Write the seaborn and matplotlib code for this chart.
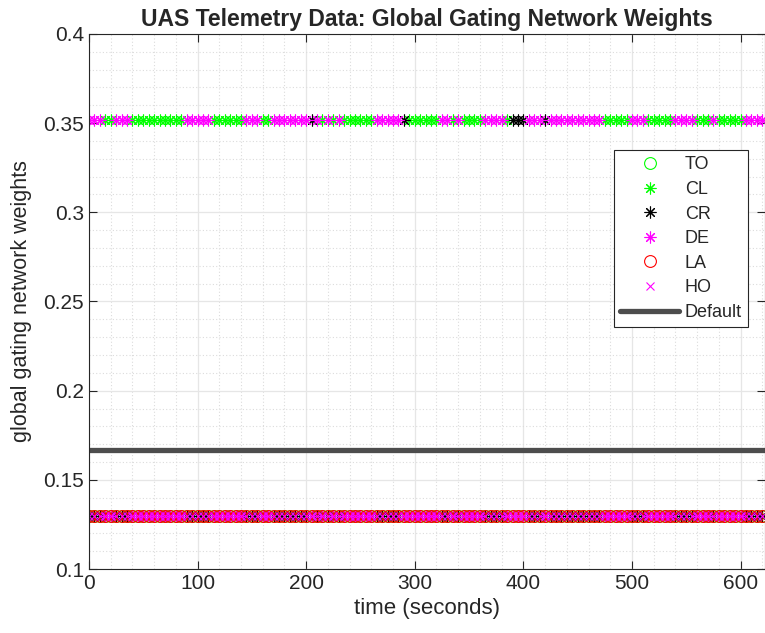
import numpy as np
import pandas as pd
import matplotlib
matplotlib.use("Agg")
import matplotlib.pyplot as plt
from matplotlib.ticker import MultipleLocator, FuncFormatter
import seaborn as sns

# Flight phases and their plotting styles
phases = ["TO", "CL", "CR", "DE", "LA", "HO"]
phase_colors = ["#00ff00", "#00ff00", "#000000", "#ff00ff", "#ff0000", "#ff00ff"]
phase_markers = ["o", (8, 2, 0), (8, 2, 0), (8, 2, 0), "o", "x"]
phase_msize = [8.5, 8.5, 8.5, 8.5, 8.5, 5.5]
phase_open = [True, False, False, False, True, False]

# Telemetry sample times (seconds)
time_s = [0, 5, 10, 15, 20, 25, 30, 35, 40, 45, 50, 55, 60, 65, 70, 75, 80, 85,
          90, 95, 100, 105, 110, 115, 120, 125, 130, 135, 140, 145, 150, 155,
          160, 165, 170, 175, 180, 185, 190, 195, 200, 205, 210, 215, 220, 225,
          230, 235, 240, 245, 250, 255, 260, 265, 270, 275, 280, 285, 290, 295,
          300, 305, 310, 315, 320, 325, 330, 335, 340, 345, 350, 355, 360, 365,
          370, 375, 380, 385, 390, 395, 400, 405, 410, 415, 420, 425, 430, 435,
          440, 445, 450, 455, 460, 465, 470, 475, 480, 485, 490, 495, 500, 505,
          510, 515, 520, 525, 530, 535, 540, 545, 550, 555, 560, 565, 570, 575,
          580, 585, 590, 595, 600, 605, 610, 615, 620]

# Phase selected by the gating network at each sample
# (T=TO, L=CL, R=CR, D=DE, A=LA, H=HO)
active_code = ("DDDLLDDDLLLLLLLLLLDDDDDLLLLLLDDDLLDDDDDDDR"
               "DLDLDLLLLLLDDDDDRLLLLLLDDLDLLLLDDDDLRRRDDDR"
               "DDDDDDDDDDLLLLLDDDLLLLLDDDDLLLDLLLLLDDDD")
code_to_phase = {"T": "TO", "L": "CL", "R": "CR", "D": "DE", "A": "LA", "H": "HO"}

weight_active = 0.352
weight_inactive = 0.1296
weight_default = 1 / 6

active_phase = [code_to_phase[c] for c in active_code]
rows = []
for t, act in zip(time_s, active_phase):
    for p in phases:
        rows.append({"time": t, "phase": p,
                     "weight": weight_active if p == act else weight_inactive})
df = pd.DataFrame(rows)

sns.set_style("ticks")
plt.rcParams["font.family"] = ["Liberation Sans", "DejaVu Sans"]

fig = plt.figure(figsize=(7.65, 6.33), dpi=100)
ax = fig.add_axes([0.1163, 0.1011, 0.8837, 0.8452])

for p, c, m, ms, op in zip(phases, phase_colors, phase_markers, phase_msize,
                           phase_open):
    sub = df[df["phase"] == p]
    kw = dict(color=c, marker=m, linestyle="", markersize=ms,
              markeredgewidth=0.8, markeredgecolor=c)
    kw["markerfacecolor"] = "none" if op else c
    sns.lineplot(data=sub, x="time", y="weight", ax=ax, estimator=None,
                 sort=False, label=p, **kw)

ax.axhline(weight_default, color="#4d4d4d", linewidth=3.8, label="Default",
           zorder=1)

ax.set_xlim(0, 622.5)
ax.set_ylim(0.1, 0.4)
ax.xaxis.set_major_locator(MultipleLocator(100))
ax.xaxis.set_minor_locator(MultipleLocator(20))
ax.yaxis.set_major_locator(MultipleLocator(0.05))
ax.yaxis.set_minor_locator(MultipleLocator(0.01))
ax.yaxis.set_major_formatter(FuncFormatter(lambda v, _: f"{v:g}"))

ax.grid(which="major", color="#e6e6e6", linewidth=0.9, linestyle="-")
ax.grid(which="minor", color="#dcdcdc", linewidth=0.8, linestyle=(0, (1, 2)))
ax.set_axisbelow(True)

for s in ax.spines.values():
    s.set_color("#262626")
    s.set_linewidth(0.8)
ax.tick_params(which="both", direction="in", top=True, right=True,
               colors="#262626", labelsize=15)
ax.tick_params(which="major", length=6)
ax.tick_params(which="minor", length=0)

ax.set_xlabel("time (seconds)", fontsize=16, color="#262626", labelpad=4)
ax.set_ylabel("global gating network weights", fontsize=15.5, color="#262626",
              labelpad=8)
ax.set_title("UAS Telemetry Data: Global Gating Network Weights",
             fontsize=16.5, fontweight="bold", pad=6)

leg = ax.legend(loc="upper left", bbox_to_anchor=(0.776, 0.783), fontsize=13,
                frameon=True, fancybox=False, edgecolor="#262626",
                framealpha=1, borderpad=0.35, labelspacing=0.42,
                handlelength=3.3, handletextpad=0.3, borderaxespad=0)
leg.get_frame().set_linewidth(0.8)

fig.savefig("out.png", dpi=100)
